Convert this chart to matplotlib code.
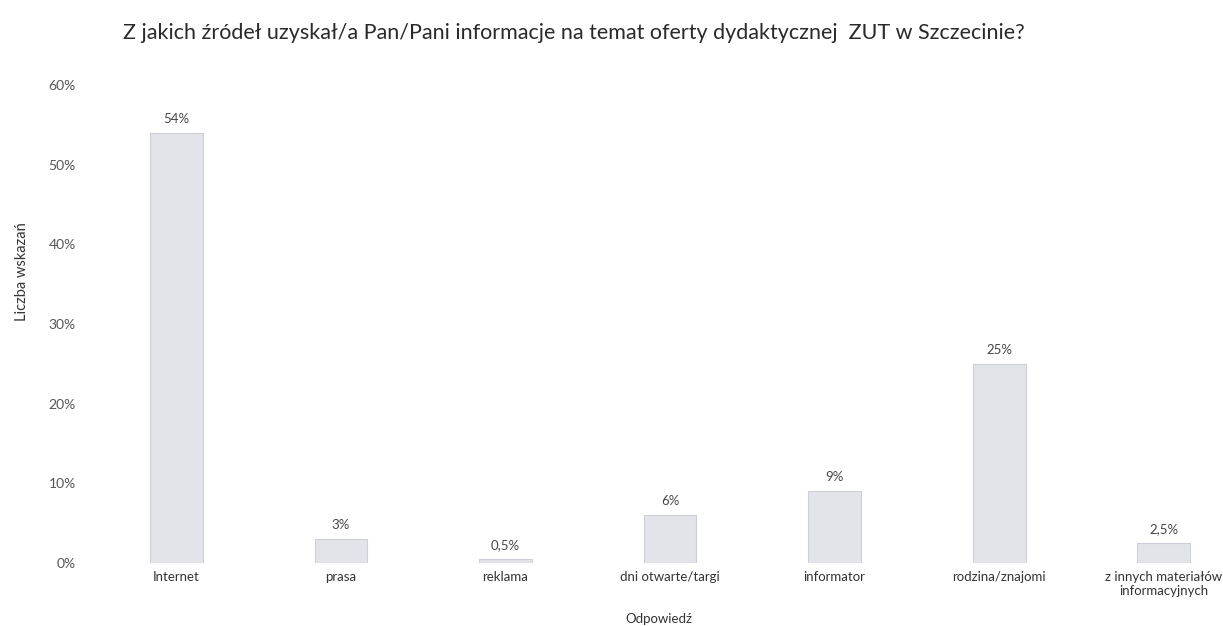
import matplotlib.pyplot as plt
from matplotlib.ticker import FuncFormatter

plt.rcParams['font.family'] = ['Lato', 'DejaVu Sans']

categories = ['Internet', 'prasa', 'reklama', 'dni otwarte/targi', 'informator',
              'rodzina/znajomi', 'z innych materiałów\ninformacyjnych']
values = [54, 3, 0.5, 6, 9, 25, 2.5]
value_labels = ['54%', '3%', '0,5%', '6%', '9%', '25%', '2,5%']
y_ticks = [0, 10, 20, 30, 40, 50, 60]

W, H = 1223, 626
fig = plt.figure(figsize=(W / 100, H / 100), dpi=100)
ax = fig.add_axes([94 / W, 1 - 563 / H, (W - 94) / W, (563 - 85) / H])

x = range(len(categories))
bars = ax.bar(x, values, width=0.32, color='#e2e4e9', edgecolor='#cdd0d6', linewidth=0.8)

# etykiety z wartosciami nad slupkami
for b, lab in zip(bars, value_labels):
    ax.text(b.get_x() + b.get_width() / 2, b.get_height() + 1.0, lab,
            ha='center', va='bottom', fontsize=9.5, color='#444444')

ax.set_xlim(-0.5, 6.36)
ax.set_ylim(0, 60)
ax.set_yticks(y_ticks)
ax.yaxis.set_major_formatter(FuncFormatter(lambda v, p: f'{v:.0f}%'))
ax.set_xticks(list(x))
ax.set_xticklabels(categories, fontsize=9.5, color='#333333')
ax.tick_params(axis='y', labelsize=10, labelcolor='#555555', length=0, pad=13)
ax.tick_params(axis='x', length=0, pad=6)
for s in ax.spines.values():
    s.set_visible(False)

ax.set_ylabel('Liczba wskazań', fontsize=10.5, color='#333333')
ax.yaxis.set_label_coords(-0.058, 0.609)
ax.set_xlabel('Odpowiedź', fontsize=9.5, color='#333333', labelpad=11)

fig.text(574 / W, 1 - 33 / H,
         'Z jakich źródeł uzyskał/a Pan/Pani informacje na temat oferty dydaktycznej  ZUT w Szczecinie?',
         ha='center', va='center', fontsize=15.5, color='#2a2a2a')

fig.savefig('out.png', dpi=100)
